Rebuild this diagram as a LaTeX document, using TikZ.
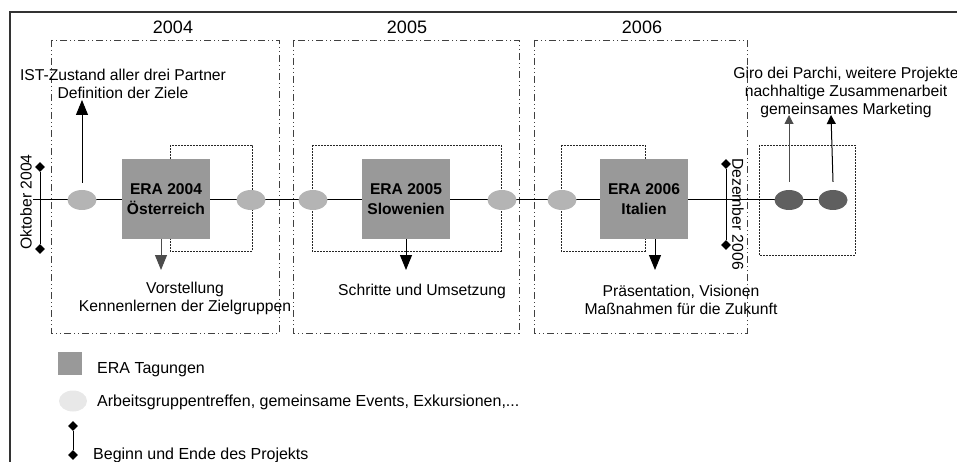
\documentclass[tikz,border=0pt]{standalone}
\usepackage{fontspec}
\setmainfont{Liberation Sans}
\usetikzlibrary{arrows.meta,shapes.geometric}
\definecolor{eragray}{HTML}{999999}
\definecolor{meetgray}{HTML}{B4B4B4}
\definecolor{legmeet}{HTML}{E8E8E8}
\definecolor{darkmeet}{HTML}{5F5F5F}
\begin{document}
\begin{tikzpicture}[x=1pt,y=-1pt,
  every node/.style={font=\fontsize{15.7}{18}\selectfont},
  yearbox/.style={draw=black!75, line width=0.8pt, dash pattern=on 7pt off 3pt on 1pt off 3pt on 1pt off 3pt},
  innerbox/.style={draw=black!85, line width=0.8pt, dash pattern=on 2pt off 1pt},
  meet/.style={ellipse, fill=meetgray, draw=none, minimum width=29pt, minimum height=20pt, inner sep=0pt},
  darkmeetnode/.style={meet, fill=darkmeet},
  era/.style={rectangle, fill=eragray, draw=none, minimum width=88pt, minimum height=80pt, inner sep=0pt, align=center, font=\fontsize{15.6}{20}\selectfont\bfseries},
  lbl/.style={align=center, inner sep=0pt},
  yearlbl/.style={inner sep=0pt, font=\fontsize{18}{20}\selectfont},
  legtxt/.style={anchor=west, inner sep=0pt, font=\fontsize{16}{18}\selectfont},
  dia/.style={diamond, fill=black, draw=none, minimum width=10pt, minimum height=10pt, inner sep=0pt},
  bigarr/.style={line width=1pt, -{Triangle[width=12pt,length=15pt]}},
  smallarr/.style={line width=1pt, -{Triangle[width=9pt,length=9pt]}}
]
\useasboundingbox (0,0) rectangle (957,462);

% outer frame
\draw[line width=1.3pt, draw=black!80] (10,462) -- (10,12) -- (960,12);

% year boxes
\draw[yearbox] (51,40) rectangle (279,333);
\draw[yearbox] (293,40) rectangle (519,333);
\draw[yearbox] (534,40) rectangle (747,333);
\node[yearlbl] (y2004) at (173,27) {2004};
\node[yearlbl] (y2005) at (407,27) {2005};
\node[yearlbl] (y2006) at (642,27) {2006};

% inner dotted boxes
\draw[innerbox] (170,145) rectangle (252,251);
\draw[innerbox] (312,145) rectangle (501,251);
\draw[innerbox] (561,145) rectangle (645,251);
\draw[innerbox] (759,145) rectangle (855,255);

% timeline
\coordinate (tstart) at (33,200);
\node[darkmeetnode] (e7) at (833,200) {};
\draw[line width=1pt] (tstart) -- (e7.west);

% meeting ellipses
\node[meet] (e1) at (82,200) {};
\node[meet] (e2) at (251,200) {};
\node[meet] (e3) at (313,200) {};
\node[meet] (e4) at (502,200) {};
\node[meet] (e5) at (562,200) {};
\node[darkmeetnode] (e6) at (789,200) {};

% ERA boxes
\node[era] (era4) at (166,199) {ERA 2004\\Österreich};
\node[era] (era5) at (406,199) {ERA 2005\\Slowenien};
\node[era] (era6) at (644,199) {ERA 2006\\Italien};

% text labels
\node[lbl] (ist) at (123,84) {IST-Zustand aller drei Partner\\Definition der Ziele};
\node[lbl] (vor) at (185,298) {Vorstellung\\Kennenlernen der Zielgruppen};
\node[lbl] (sch) at (422,291) {Schritte und Umsetzung};
\node[lbl] (pra) at (681,300) {Präsentation, Visionen\\Maßnahmen für die Zukunft};
\node[lbl] (giro) at (846,92) {Giro dei Parchi, weitere Projekte\\nachhaltige Zusammenarbeit\\gemeinsames Marketing};

% arrows
\coordinate (a1e) at (82,100);
\draw[bigarr] ([yshift=7pt]e1.north) -- (a1e);
\coordinate (a2e) at (161,270);
\draw[bigarr, draw=black!70] (era4.south -| a2e) -- (a2e);
\coordinate (a3e) at (406,270);
\draw[bigarr] (era5.south -| a3e) -- (a3e);
\coordinate (a4e) at (655,270);
\draw[bigarr] (era6.south -| a4e) -- (a4e);
\coordinate (a5e) at (789,115);
\draw[smallarr, draw=black!70] ([yshift=8pt]e6.north) -- (a5e);
\coordinate (a6e) at (831,115);
\draw[smallarr] ([yshift=8pt]e7.north) -- (a6e);

% project begin / end
\node[dia] (d1) at (40,167) {};
\node[dia] (d2) at (40,249) {};
\draw[line width=1pt] (d1) -- (d2);
\node[rotate=90, inner sep=0pt] (okt) at (26,202) {Oktober 2004};
\node[dia] (d3) at (726,164) {};
\node[dia] (d4) at (726,245) {};
\draw[line width=1pt] (d3) -- (d4);
\node[rotate=-90, inner sep=0pt] (dez) at (738,214) {Dezember 2006};

% legend
\node[rectangle, fill=eragray, minimum width=24pt, minimum height=23pt, inner sep=0pt] (lsq) at (70,363) {};
\node[legtxt] (lt1) at (97,370) {ERA Tagungen};
\node[ellipse, fill=legmeet, minimum width=28pt, minimum height=21pt, inner sep=0pt] (lel) at (73,401) {};
\node[legtxt] (lt2) at (97,402) {Arbeitsgruppentreffen, gemeinsame Events, Exkursionen,...};
\node[dia] (ld1) at (73,426) {};
\node[dia] (ld2) at (73,455) {};
\draw[line width=1pt] (ld1) -- (ld2);
\node[legtxt] (lt3) at (93,455) {Beginn und Ende des Projekts};
\end{tikzpicture}
\end{document}
